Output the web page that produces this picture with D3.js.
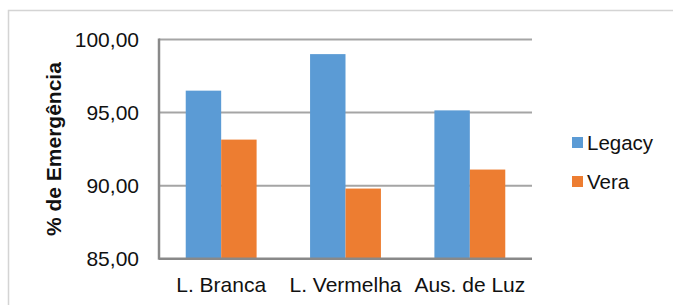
<!DOCTYPE html>
<html>
<head>
<meta charset="utf-8">
<script src="https://cdn.jsdelivr.net/npm/d3@7"></script>
<style>
  body { margin: 0; background: #fff; }
  svg { display: block; font-family: "Liberation Sans", Arial, sans-serif; }
</style>
</head>
<body>
<div id="chart"></div>
<script>
const categories = ["L. Branca", "L. Vermelha", "Aus. de Luz"];
const seriesNames = ["Legacy", "Vera"];
const legacyValues = [96.5, 99.0, 95.15];
const veraValues = [93.15, 89.8, 91.1];
const yTicks = [85, 90, 95, 100];

const colors = { Legacy: "#5b9bd5", Vera: "#ed7d31" };
const textColor = "#111";

const width = 673, height = 305;
const plot = { left: 159, right: 532, top: 39.5, bottom: 258.7 };

const data = categories.map((c, i) => ({
    name: c,
    values: [
        { key: "Legacy", value: legacyValues[i] },
        { key: "Vera", value: veraValues[i] }
    ]
}));

const svg = d3.select("#chart")
    .append("svg")
    .attr("width", width)
    .attr("height", height);

// chart area border
svg.append("rect")
    .attr("x", 8.5).attr("y", 10.5)
    .attr("width", 700).attr("height", 320)
    .attr("fill", "none")
    .attr("stroke", "#d4d4d4")
    .attr("stroke-width", 1.5);

const xScale = d3.scaleBand()
    .domain(categories)
    .range([plot.left, plot.right])
    .paddingInner(0.43)
    .paddingOuter(0.215);

const xSub = d3.scaleBand()
    .domain(seriesNames)
    .range([0, xScale.bandwidth()]);

const yScale = d3.scaleLinear()
    .domain([85, 100])
    .range([plot.bottom, plot.top]);

// gridlines
svg.append("g")
    .selectAll("line")
    .data(yTicks.filter(t => t > 85))
    .join("line")
        .attr("x1", plot.left)
        .attr("x2", plot.right)
        .attr("y1", d => yScale(d))
        .attr("y2", d => yScale(d))
        .attr("stroke", "#a5a5a5")
        .attr("stroke-width", 2);

// bars
svg.append("g")
    .selectAll("g")
    .data(data)
    .join("g")
        .attr("transform", d => "translate(" + xScale(d.name) + ",0)")
    .selectAll("rect")
    .data(d => d.values)
    .join("rect")
        .attr("x", d => xSub(d.key))
        .attr("y", d => yScale(d.value))
        .attr("width", xSub.bandwidth())
        .attr("height", d => yScale(85) - yScale(d.value))
        .attr("fill", d => colors[d.key]);

// y axis labels
const yAxis = svg.append("g")
    .attr("transform", "translate(" + plot.left + ",0)")
    .call(d3.axisLeft(yScale)
        .tickValues(yTicks)
        .tickSize(0)
        .tickPadding(20)
        .tickFormat(d => d3.format(".2f")(d).replace(".", ",")));
yAxis.select(".domain").remove();
yAxis.selectAll("text")
    .attr("font-size", 21)
    .attr("fill", textColor)
    .attr("font-family", "Liberation Sans, Arial, sans-serif");

// x axis labels
const xAxis = svg.append("g")
    .attr("transform", "translate(0," + plot.bottom + ")")
    .call(d3.axisBottom(xScale).tickSize(0).tickPadding(18));
xAxis.select(".domain").remove();
xAxis.selectAll("text")
    .attr("font-size", 21)
    .attr("fill", textColor)
    .attr("font-family", "Liberation Sans, Arial, sans-serif");

// axis lines
svg.append("line")
    .attr("x1", plot.left).attr("x2", plot.left)
    .attr("y1", plot.top - 1).attr("y2", plot.bottom + 1)
    .attr("stroke", "#898989").attr("stroke-width", 2.5);
svg.append("line")
    .attr("x1", plot.left).attr("x2", plot.right)
    .attr("y1", plot.bottom).attr("y2", plot.bottom)
    .attr("stroke", "#898989").attr("stroke-width", 2.5);

// y title
svg.append("text")
    .attr("transform", "translate(61," + ((plot.top + plot.bottom) / 2) + ") rotate(-90)")
    .attr("text-anchor", "middle")
    .attr("font-size", 21)
    .attr("font-weight", "bold")
    .attr("fill", textColor)
    .text("% de Emergência");

// legend
const legend = svg.append("g")
    .selectAll("g")
    .data(seriesNames)
    .join("g")
        .attr("transform", (d, i) => "translate(572," + (137 + i * 39) + ")");
legend.append("rect")
    .attr("width", 11).attr("height", 11)
    .attr("fill", d => colors[d]);
legend.append("text")
    .attr("x", 15).attr("y", 12.5)
    .attr("font-size", 20.5)
    .attr("fill", textColor)
    .text(d => d);
</script>
</body>
</html>
